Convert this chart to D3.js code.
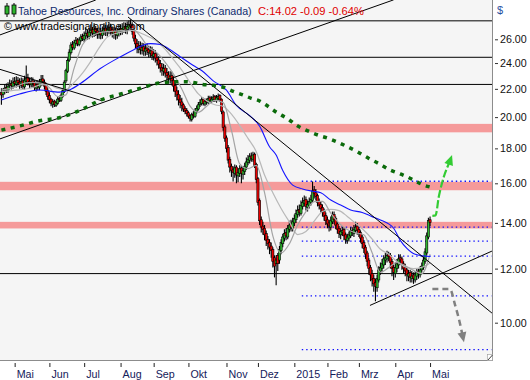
<!DOCTYPE html>
<html><head><meta charset="utf-8">
<script src="https://cdn.jsdelivr.net/npm/d3@7"></script>
<style>
html,body{margin:0;padding:0;background:#fff;}
svg{display:block;font-family:"Liberation Sans",Arial,"DejaVu Sans",sans-serif;}
</style></head><body>
<svg id="c" width="530" height="380"></svg>
<script>
// ---- data ----
const closes = [
21.55,21.80,22.05,21.95,22.20,22.35,22.25,22.50,22.40,22.60,
22.45,22.30,22.55,22.20,22.65,22.80,22.50,22.35,22.55,22.40,
22.10,22.30,22.15,22.45,22.70,22.55,22.20,21.80,21.45,21.20,
20.95,21.05,20.85,21.00,21.25,21.20,21.50,21.85,22.50,23.40,
24.20,24.90,25.50,25.30,25.70,25.90,25.60,25.95,26.20,26.05,
26.35,26.50,26.30,26.65,26.80,26.55,26.90,26.70,26.45,26.60,
26.40,26.75,26.95,26.70,26.85,27.05,26.80,26.55,26.70,26.40,
26.65,26.90,26.75,26.95,27.10,26.85,27.15,27.30,27.20,26.70,
26.10,25.60,25.20,25.40,25.10,25.30,25.00,25.20,25.05,24.85,
25.00,24.60,24.75,24.40,24.20,23.90,23.60,23.40,23.55,23.20,
23.00,22.80,22.95,22.60,22.20,21.80,21.55,21.20,21.00,20.80,
20.55,20.40,20.25,20.05,19.90,20.15,20.10,20.45,20.60,20.85,
21.00,21.20,20.95,21.10,21.05,21.30,21.15,21.25,21.40,21.20,
21.35,21.45,21.20,20.40,19.30,18.60,18.00,17.30,16.90,16.70,
16.60,16.85,16.45,16.60,16.80,16.55,16.70,16.95,17.20,17.35,
17.50,17.40,17.60,17.00,16.20,15.00,14.10,13.80,13.70,13.45,
13.20,13.05,12.90,12.75,12.30,12.10,12.35,12.20,12.80,13.10,
13.35,13.50,13.40,13.75,13.90,13.80,14.05,14.20,14.45,14.60,
14.50,14.85,15.00,15.10,14.80,14.90,15.05,15.15,15.60,15.45,
15.30,15.00,14.85,14.70,14.50,14.30,14.10,13.95,13.85,14.10,
14.35,14.15,13.90,13.70,13.50,13.60,13.65,13.40,13.25,13.35,
13.45,13.60,13.55,13.70,13.80,13.65,13.50,13.30,13.05,12.85,
12.60,12.30,12.00,11.75,11.55,11.40,11.30,11.60,11.95,12.05,
12.20,12.40,12.45,12.55,12.50,12.25,12.00,11.85,12.05,12.20,
12.40,12.35,12.15,12.00,11.90,11.75,11.80,11.65,11.70,11.60,
11.75,11.85,11.80,11.95,12.10,12.35,12.70,13.40,14.11,14.02];
const opens = [
21.75,21.60,21.85,22.10,21.90,22.25,22.40,22.20,22.55,22.35,
22.65,22.50,22.25,22.60,22.15,22.55,22.85,22.55,22.30,22.60,
22.45,22.05,22.35,22.10,22.40,22.75,22.50,22.25,21.85,21.50,
21.25,20.90,21.10,20.80,20.95,21.30,21.15,21.45,21.80,22.60,
23.35,24.25,24.85,25.55,25.25,25.65,25.95,25.55,25.90,26.25,
26.00,26.30,26.55,26.25,26.60,26.85,26.50,26.95,26.75,26.40,
26.65,26.35,26.70,27.00,26.65,26.80,27.10,26.85,26.50,26.75,
26.35,26.60,26.95,26.70,26.90,27.15,26.80,27.10,27.35,27.25,
26.75,26.05,25.65,25.15,25.45,25.05,25.35,24.95,25.25,25.10,
24.80,25.05,24.55,24.80,24.45,24.25,23.95,23.65,23.35,23.60,
23.25,23.05,22.75,23.00,22.65,22.25,21.85,21.60,21.25,21.05,
20.85,20.60,20.45,20.30,20.10,19.85,20.20,20.05,20.40,20.55,
20.85,20.95,21.25,20.90,21.15,21.00,21.35,21.10,21.20,21.45,
21.15,21.30,21.50,21.25,20.35,19.35,18.65,18.05,17.35,16.95,
16.75,16.55,16.90,16.40,16.55,16.85,16.50,16.65,16.90,17.15,
17.30,17.55,17.35,17.65,17.05,16.25,15.10,14.15,13.85,13.75,
13.50,13.25,13.10,12.95,12.80,12.45,12.20,12.55,12.35,12.75,
13.05,13.30,13.55,13.35,13.70,13.95,13.75,14.00,14.15,14.40,
14.65,14.45,14.80,14.95,15.15,14.75,14.85,15.00,15.10,15.65,
15.50,15.35,15.05,14.90,14.75,14.55,14.35,14.15,14.00,13.80,
14.05,14.40,14.20,13.95,13.75,13.45,13.55,13.70,13.45,13.20,
13.30,13.40,13.65,13.50,13.65,13.85,13.70,13.55,13.35,13.10,
12.90,12.65,12.35,12.05,11.80,11.60,11.45,11.25,11.55,11.90,
12.00,12.15,12.35,12.40,12.60,12.55,12.30,12.05,11.80,12.00,
12.15,12.45,12.40,12.20,12.05,11.95,11.70,11.85,11.60,11.75,
11.55,11.70,11.90,11.75,11.95,12.05,12.30,12.65,13.35,14.15];
const highs = [
22.05,22.05,22.35,22.40,22.50,22.70,22.65,22.85,22.90,22.95,
22.90,22.80,22.85,22.80,23.00,23.80,23.15,22.85,22.90,22.85,
22.65,22.60,22.65,22.75,23.05,23.05,22.70,22.45,22.05,21.75,
21.35,21.25,21.20,21.15,21.40,21.45,21.65,22.00,22.65,23.55,
24.40,25.15,25.75,25.85,25.95,26.20,26.10,26.15,26.45,26.50,
26.70,27.05,26.85,27.00,27.35,27.10,27.45,27.20,27.00,27.05,
27.00,27.15,27.45,27.30,27.25,27.55,27.40,27.15,27.10,27.05,
27.00,27.30,27.35,27.45,27.55,27.50,27.60,27.70,27.80,27.55,
27.00,26.40,26.00,25.85,25.80,25.70,25.65,25.60,25.65,25.45,
25.40,25.35,25.15,25.05,24.80,24.55,24.25,24.00,23.95,23.85,
23.60,23.35,23.35,23.30,22.95,22.55,22.15,21.90,21.55,21.35,
20.95,20.75,20.60,20.40,20.20,20.30,20.40,20.60,20.80,21.05,
21.25,21.40,21.35,21.30,21.30,21.50,21.50,21.45,21.60,21.55,
21.55,21.65,21.60,21.30,20.45,19.50,18.80,18.20,17.50,17.10,
16.95,17.05,17.00,16.85,17.00,16.95,16.90,17.15,17.45,17.60,
17.70,17.75,17.80,17.75,17.15,16.35,15.20,14.30,14.05,13.90,
13.65,13.40,13.25,13.10,12.90,12.55,12.55,12.65,12.95,13.25,
13.50,13.70,13.75,13.90,14.10,14.15,14.25,14.40,14.65,14.85,
14.90,15.10,15.25,15.35,15.30,15.10,15.25,15.40,16.10,15.85,
15.70,15.45,15.20,15.05,14.90,14.70,14.50,14.30,14.15,14.30,
14.55,14.55,14.30,14.05,13.85,13.75,13.85,13.80,13.55,13.50,
13.60,13.80,13.80,13.90,14.05,14.00,13.80,13.65,13.45,13.20,
13.00,12.75,12.45,12.15,11.95,11.75,11.60,11.75,12.10,12.25,
12.40,12.55,12.65,12.75,12.70,12.65,12.40,12.15,12.25,12.40,
12.60,12.60,12.50,12.30,12.20,12.05,11.95,11.95,11.90,11.85,
11.90,12.00,12.00,12.10,12.25,12.50,12.85,13.55,14.25,14.30];
const lows = [
20.85,21.35,21.60,21.70,21.70,22.00,21.95,22.00,22.15,22.10,
22.15,22.00,22.05,21.95,21.95,22.35,22.25,22.05,22.10,22.10,
21.85,21.80,21.90,21.90,22.20,22.25,21.95,21.55,21.20,20.95,
20.75,20.65,20.70,20.70,20.85,21.05,21.05,21.35,21.70,22.45,
23.20,24.10,24.70,25.05,25.10,25.45,25.40,25.40,25.75,25.85,
25.75,26.00,25.95,26.00,26.25,26.15,26.20,26.30,26.05,26.05,
26.00,26.05,26.35,26.30,26.25,26.45,26.40,26.15,26.05,25.95,
26.05,26.25,26.35,26.40,26.55,26.50,26.45,26.75,26.80,26.40,
25.80,25.20,24.80,24.80,24.70,24.70,24.60,24.60,24.65,24.45,
24.45,24.25,24.20,24.05,23.80,23.55,23.25,23.00,23.00,22.85,
22.60,22.40,22.40,22.25,21.80,21.40,21.15,20.80,20.60,20.40,
20.35,20.20,20.05,19.90,19.70,19.70,19.90,19.95,20.25,20.45,
20.70,20.80,20.80,20.75,20.85,20.90,21.00,20.95,21.05,21.05,
21.00,21.15,21.05,20.20,19.10,18.40,17.75,17.10,16.60,16.35,
16.10,16.30,16.00,16.05,16.35,16.00,16.20,16.45,16.75,17.00,
17.10,17.20,17.20,16.85,16.00,14.85,13.90,13.55,13.45,13.20,
12.95,12.80,12.60,12.45,12.05,11.65,11.35,11.90,12.20,12.60,
12.90,13.15,13.20,13.25,13.55,13.60,13.60,13.85,14.00,14.25,
14.30,14.35,14.65,14.80,14.60,14.55,14.70,14.85,15.00,15.20,
15.10,14.80,14.65,14.50,14.30,14.10,13.90,13.75,13.60,13.65,
13.95,13.95,13.70,13.50,13.30,13.25,13.40,13.20,13.05,13.05,
13.15,13.30,13.40,13.35,13.55,13.45,13.35,13.10,12.85,12.65,
12.40,12.10,11.75,11.50,11.30,11.10,10.75,11.10,11.45,11.75,
11.85,12.00,12.15,12.25,12.30,12.00,11.70,11.55,11.65,11.85,
12.00,12.15,11.95,11.80,11.70,11.50,11.50,11.45,11.45,11.40,
11.45,11.55,11.60,11.65,11.85,11.95,12.20,12.55,13.25,13.85];

const monthIdx = [8,29,50,72,92,113,136,155,177,197,216,238,259];
const monthLabels = ["Mai","Jun","Jul","Aug","Sep","Okt","Nov","Dez","2015","Feb","Mrz","Apr","Mai"];
const priceTicks = [26,24,22,20,18,16,14,12,10];

// moving-average lines, sampled [bar index, price]
const maFast = [[0,21.9],[4,22.0],[9,22.17],[14,22.43],[19,22.48],[24,22.43],[29,22.09],[34,21.43],[39,21.56],[44,23.61],[49,25.53],[54,26.23],[59,26.58],[64,26.69],[69,26.72],[74,26.79],[79,26.96],[84,26.26],[89,25.28],[94,24.84],[99,24.06],[104,23.12],[109,21.99],[114,20.75],[119,20.33],[124,20.75],[129,21.16],[134,21.0],[139,19.12],[144,17.08],[149,16.81],[154,17.0],[159,15.5],[164,13.4],[169,12.65],[174,13.05],[179,13.9],[184,14.54],[189,15.04],[194,15.05],[199,14.47],[204,13.99],[209,13.69],[214,13.54],[219,13.45],[224,12.66],[229,11.85],[234,12.04],[239,12.25],[244,12.12],[249,11.93],[254,11.8],[259,12.6]];
const maSlow = [[0,21.8],[9,21.9],[19,22.1],[24,22.32],[29,22.31],[34,22.03],[39,21.96],[44,22.48],[49,23.2],[54,24.14],[59,25.26],[64,26.19],[69,26.51],[74,26.69],[79,26.8],[84,26.56],[89,26.23],[94,25.81],[99,25.14],[104,24.28],[109,23.44],[114,22.47],[119,21.63],[124,21.14],[129,20.85],[134,20.74],[139,20.2],[144,19.44],[149,18.62],[154,17.8],[159,16.45],[164,15.5],[169,14.7],[174,14.05],[179,13.46],[184,13.6],[189,14.08],[194,14.55],[199,14.65],[204,14.59],[209,14.31],[214,13.98],[219,13.66],[224,13.26],[229,12.81],[234,12.6],[239,12.29],[244,12.07],[249,12.0],[254,12.05],[259,12.23]];
const ma50 = [[0,21.19],[11,21.62],[23,21.91],[35,21.76],[41,21.91],[48,22.42],[60,23.58],[72,24.52],[80,25.1],[86,25.5],[90,25.62],[96,25.55],[102,25.1],[108,24.52],[116,23.8],[121,23.4],[128,22.6],[136,21.9],[142,20.8],[150,20.1],[156,19.4],[162,18.1],[166,17.6],[170,16.7],[176,15.9],[182,15.7],[188,15.58],[193,15.5],[199,15.12],[205,14.87],[211,14.62],[218,14.5],[224,14.3],[229,14.14],[237,13.75],[241,13.2],[245,12.85],[250,12.6],[259,12.5]];
const ma200 = [[0,19.14],[11,19.41],[23,19.76],[35,19.96],[48,20.49],[60,21.19],[72,21.62],[84,22.04],[96,22.45],[110,22.54],[117,22.45],[121,22.34],[127,22.28],[133,22.16],[141,21.77],[146,21.55],[151,21.31],[156,21.12],[160,20.83],[165,20.42],[174,19.81],[178,19.48],[186,19.05],[192,18.8],[198,18.6],[203,18.39],[208,18.15],[215,17.8],[222,17.4],[228,17.1],[235,16.73],[240,16.55],[245,16.36],[250,16.13],[255,15.91],[259,15.8]];

// drawn analysis objects [bar index, price]
const hLevels = [27.67, 24.47, 22.33, 11.80];
const bands = [[19.0,19.55],[15.63,16.08],[13.74,14.05]];
const dottedLevels = [16.11,13.80,13.17,12.52,10.95,9.13];
const dottedRange = [181.5, 296];
const trendLines = [
  [[-1,18.58],[237,29.7]],
  [[-1,26.38],[57,29.68]],
  [[-1,23.5],[60.6,21.14]],
  [[76.5,28.03],[296.4,10.33]],
  [[222.7,10.6],[296.4,12.73]]
];
const upArrow = [[260.4,14.34],[262.3,14.36],[264.3,15.3],[266.5,16.1],[272.3,17.6]];
const downArrow = [[260.4,11.2],[271,11.2],[274.1,10.62],[277.5,9.87],[279.5,9.36]];

// ---- drawing ----
const svg = d3.select("#c");
const plotR = 493, plotB = 361;
const x = d3.scaleLinear().domain([0,259]).range([1.41,430.05]);
const y = d3.scaleLog().domain([26,10]).range([39.3,322.7]);

svg.append("rect").attr("width",530).attr("height",380).attr("fill","#fff");
svg.append("rect").attr("width",plotR).attr("height",plotB).attr("fill","#f5f5f5");
svg.append("defs").append("clipPath").attr("id","clip")
  .append("rect").attr("width",plotR).attr("height",plotB);
const plot = svg.append("g").attr("clip-path","url(#clip)");

// bands
plot.selectAll("rect.band").data(bands).join("rect").attr("class","band")
  .attr("x",0).attr("width",plotR)
  .attr("y",d=>y(d[1])).attr("height",d=>y(d[0])-y(d[1]))
  .attr("fill","#f59a9a");

// horizontal black lines
plot.selectAll("line.h").data(hLevels).join("line").attr("class","h")
  .attr("x1",0).attr("x2",plotR).attr("y1",d=>y(d)).attr("y2",d=>y(d))
  .attr("stroke","#000").attr("stroke-width",1);

// dotted blue levels
plot.selectAll("line.dot").data(dottedLevels).join("line").attr("class","dot")
  .attr("x1",x(dottedRange[0])).attr("x2",x(dottedRange[1]))
  .attr("y1",d=>y(d)).attr("y2",d=>y(d))
  .attr("stroke","#1010ff").attr("stroke-width",1.3).attr("stroke-dasharray","1.4,3");

// candles
const bars = closes.map((c,i)=>({i,o:opens[i],h:highs[i],l:lows[i],c}));
const cg = plot.append("g");
cg.selectAll("line").data(bars).join("line")
  .attr("x1",d=>x(d.i)).attr("x2",d=>x(d.i))
  .attr("y1",d=>y(d.h)).attr("y2",d=>y(d.l))
  .attr("stroke","#000").attr("stroke-width",1.1);
cg.selectAll("rect").data(bars).join("rect")
  .attr("x",d=>x(d.i)-1.1).attr("width",2.2)
  .attr("y",d=>y(Math.max(d.o,d.c)))
  .attr("height",d=>Math.max(1,Math.abs(y(d.o)-y(d.c))))
  .attr("fill",d=>d.c>=d.o?"#2db52d":"#ee0000")
  .attr("stroke","#000").attr("stroke-width",0.6);

// moving averages
const ln = d3.line().x(d=>x(d[0])).y(d=>y(d[1])).curve(d3.curveMonotoneX);
plot.append("path").attr("d",ln(maSlow)).attr("fill","none").attr("stroke","#b8b8b8").attr("stroke-width",1.2);
plot.append("path").attr("d",ln(maFast)).attr("fill","none").attr("stroke","#a4a4a4").attr("stroke-width",1.2);
plot.append("path").attr("d",ln(ma50)).attr("fill","none").attr("stroke","#1414ff").attr("stroke-width",1.1);

// trend lines
const sl = d3.line().x(d=>x(d[0])).y(d=>y(d[1]));
plot.selectAll("path.tl").data(trendLines).join("path").attr("class","tl")
  .attr("d",sl).attr("fill","none").attr("stroke","#000").attr("stroke-width",1);

// 200 MA dotted green
plot.append("path").attr("d",ln(ma200)).attr("fill","none").attr("stroke","#0b6b0b")
  .attr("stroke-width",3.5).attr("stroke-dasharray","4,5.5");

// arrows
function arrow(pts,color,dash,w){
  const p = pts.map(d=>[x(d[0]),y(d[1])]);
  const a = p[p.length-2], b = p[p.length-1];
  const dx=b[0]-a[0], dy=b[1]-a[1], L=Math.hypot(dx,dy), ux=dx/L, uy=dy/L;
  const base=[b[0]-ux*10,b[1]-uy*10];
  const q = p.slice(0,-1).concat([[b[0]-ux*8,b[1]-uy*8]]);
  plot.append("path").attr("d",d3.line().curve(d3.curveMonotoneX)(q)).attr("fill","none")
    .attr("stroke",color).attr("stroke-width",w).attr("stroke-dasharray",dash);
  plot.append("path").attr("d",`M${b[0]},${b[1]}L${base[0]-uy*4.5},${base[1]+ux*4.5}L${base[0]+uy*4.5},${base[1]-ux*4.5}Z`)
    .attr("fill",color);
}
arrow(upArrow,"#33cc33","8,2.5",2.2);
arrow(downArrow,"#808080","6,4",2.5);

// borders
svg.append("line").attr("x1",0).attr("x2",plotR).attr("y1",plotB-0.5).attr("y2",plotB-0.5).attr("stroke","#8c8c8c");
svg.append("line").attr("x1",plotR-0.5).attr("x2",plotR-0.5).attr("y1",0).attr("y2",plotB).attr("stroke","#8c8c8c");
svg.append("rect").attr("x",487.5).attr("y",354.5).attr("width",5).attr("height",6).attr("fill","#fff").attr("stroke","#999").attr("stroke-width",0.6);
svg.append("line").attr("x1",488).attr("y1",360).attr("x2",492.5).attr("y2",355).attr("stroke","#444").attr("stroke-width",1);

// right axis
const ya = svg.append("g").attr("transform",`translate(495,0)`)
  .call(d3.axisRight(y).tickValues(priceTicks).tickFormat(d3.format(".2f")).tickSize(3).tickPadding(2));
ya.select(".domain").remove();
ya.selectAll("text").attr("font-size",10.7).attr("fill","#111").attr("font-family","'Liberation Sans',Arial,sans-serif");
ya.selectAll("line").attr("stroke","#333");
svg.append("text").attr("x",497).attr("y",14).attr("font-size",11).attr("fill","#2a4fa0").text("$");

// bottom axis
const xa = svg.append("g").attr("transform",`translate(0,363)`)
  .call(d3.axisBottom(x).tickValues(monthIdx).tickFormat((d,i)=>monthLabels[i]).tickSize(4).tickPadding(3));
xa.select(".domain").remove();
xa.selectAll("text").attr("text-anchor","start").attr("dx",1.5).attr("font-size",10.7)
  .attr("fill","#14205a").attr("font-family","'Liberation Sans',Arial,sans-serif");
xa.selectAll("line").attr("stroke","#222");

// title
const ic = svg.append("g");
ic.append("line").attr("x1",7).attr("x2",7).attr("y1",3).attr("y2",17).attr("stroke","#000");
ic.append("rect").attr("x",5).attr("y",6).attr("width",4).attr("height",8).attr("fill","#2db52d").attr("stroke","#000").attr("stroke-width",0.8);
ic.append("line").attr("x1",14).attr("x2",14).attr("y1",3).attr("y2",17).attr("stroke","#000");
ic.append("rect").attr("x",12).attr("y",5).attr("width",4).attr("height",9).attr("fill","#2db52d").attr("stroke","#000").attr("stroke-width",0.8);
function fitText(xp,yp,txt,fill,target,base){
  const t = svg.append("text").attr("x",xp).attr("y",yp).attr("font-size",base).attr("fill",fill).text(txt);
  const w = t.node().getComputedTextLength();
  if (w>0) t.attr("font-size", base*target/w);
  return t;
}
fitText(18,14.5,"Tahoe Resources, Inc. Ordinary Shares (Canada)","#0d2a6e",234,12.5);
fitText(258,14.5,"C:14.02 -0.09 -0.64%","#e00000",106,12.5);
fitText(4,30,"© www.tradesignalonline.com","#000",141,11.5);
</script>
</body></html>
